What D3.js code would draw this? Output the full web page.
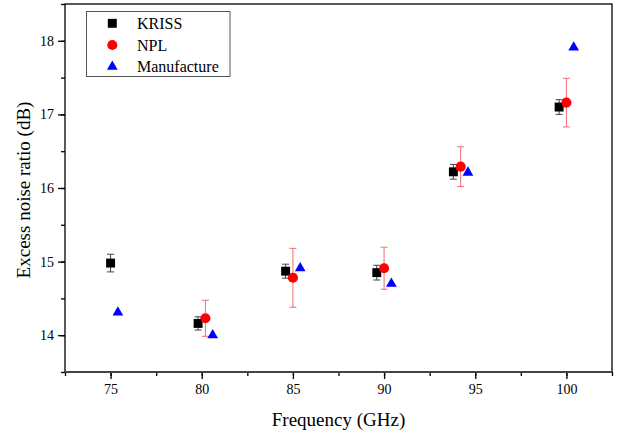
<!DOCTYPE html>
<html>
<head>
<meta charset="utf-8">
<script src="https://cdn.jsdelivr.net/npm/d3@7"></script>
<style>
  body { margin: 0; background: #fff; }
  text { font-family: "Liberation Serif", serif; }
</style>
</head>
<body>
<svg width="620" height="434"></svg>
<script>
// KRISS
const krissFreq = [75.0, 79.8, 84.6, 89.6, 93.8, 99.6]
const krissVal = [14.98, 14.16, 14.87, 14.85, 16.22, 17.1]
const krissErr = [0.12, 0.09, 0.095, 0.1, 0.1, 0.1]
// NPL
const nplFreq = [80.2, 85.0, 90.0, 94.2, 100.0]
const nplVal = [14.23, 14.78, 14.91, 16.29, 17.16]
const nplErr = [0.245, 0.4, 0.285, 0.27, 0.33]
// Manufacture
const manuFreq = [75.4, 80.6, 85.4, 90.4, 94.6, 100.4]
const manuVal = [14.31, 14.0, 14.91, 14.7, 16.21, 17.91]

const xTicks = [75, 80, 85, 90, 95, 100]
const yTicks = [14, 15, 16, 17, 18]
const seriesNames = ['KRISS', 'NPL', 'Manufacture']

const FONT = 'Liberation Serif'
const margin = { top: 4, right: 8, bottom: 62, left: 65 }
const width = 620 - margin.left - margin.right
const height = 434 - margin.top - margin.bottom

const svg = d3.select('svg').attr('font-family', FONT)
const chart = svg.append('g')
  .attr('transform', `translate(${margin.left}, ${margin.top})`)

const xScale = d3.scaleLinear().domain([72.5, 102.5]).range([0, width])
const yScale = d3.scaleLinear().domain([13.5, 18.5]).range([height, 0])

// frame
chart.append('rect')
  .attr('width', width).attr('height', height)
  .attr('fill', 'none').attr('stroke', '#000').attr('stroke-width', 1.3)

// minor ticks
const xMinor = chart.append('g')
  .attr('transform', `translate(0, ${height})`)
  .call(d3.axisBottom(xScale).tickValues(d3.range(72.5, 102.6, 2.5)).tickSize(4).tickFormat(''))
const xAxis = chart.append('g')
  .attr('transform', `translate(0, ${height})`)
  .call(d3.axisBottom(xScale).tickValues(xTicks).tickSize(7).tickPadding(5).tickFormat(d3.format('d')))
const yMinor = chart.append('g')
  .call(d3.axisLeft(yScale).tickValues(d3.range(13.5, 18.6, 0.5)).tickSize(4).tickFormat(''))
const yAxis = chart.append('g')
  .call(d3.axisLeft(yScale).tickValues(yTicks).tickSize(7).tickPadding(4).tickFormat(d3.format('d')))

for (const ax of [xMinor, xAxis, yMinor, yAxis]) {
  ax.attr('font-family', FONT)
  ax.selectAll('.domain').remove()
  ax.selectAll('line').attr('stroke', '#000').attr('stroke-width', 1.3)
  ax.selectAll('text').attr('font-size', 14).attr('font-family', FONT).attr('fill', '#000')
}
chart.append('line')
  .attr('x1', 0).attr('x2', width).attr('y1', height).attr('y2', height)
  .attr('stroke', '#444').attr('stroke-width', 2)

// axis titles
svg.append('text')
  .attr('x', margin.left + width / 2)
  .attr('y', 426)
  .attr('text-anchor', 'middle')
  .attr('font-family', FONT)
  .attr('font-size', 19)
  .text('Frequency (GHz)')

svg.append('text')
  .attr('transform', 'translate(30, 190) rotate(-90)')
  .attr('text-anchor', 'middle')
  .attr('font-family', FONT)
  .attr('font-size', 19)
  .text('Excess noise ratio (dB)')

function errorBars(freq, val, err, color) {
  const g = chart.append('g').attr('stroke', color).attr('stroke-width', 1)
  freq.forEach((f, i) => {
    const x = xScale(f)
    const y1 = yScale(val[i] - err[i])
    const y2 = yScale(val[i] + err[i])
    g.append('line').attr('x1', x).attr('x2', x).attr('y1', y1).attr('y2', y2)
    g.append('line').attr('x1', x - 3.5).attr('x2', x + 3.5).attr('y1', y1).attr('y2', y1)
    g.append('line').attr('x1', x - 3.5).attr('x2', x + 3.5).attr('y1', y2).attr('y2', y2)
  })
}

errorBars(krissFreq, krissVal, krissErr, '#444')
errorBars(nplFreq, nplVal, nplErr, '#f26d6d')

const square = d3.symbol().type(d3.symbolSquare).size(80)
const circle = d3.symbol().type(d3.symbolCircle).size(80)
const triangle = d3.symbol().type(d3.symbolTriangle).size(50)

chart.selectAll()
  .data(krissFreq)
  .enter()
  .append('path')
  .attr('d', square)
  .attr('transform', (d, i) => `translate(${xScale(d)}, ${yScale(krissVal[i])})`)
  .attr('fill', '#000')

chart.selectAll()
  .data(nplFreq)
  .enter()
  .append('path')
  .attr('d', circle)
  .attr('transform', (d, i) => `translate(${xScale(d)}, ${yScale(nplVal[i])})`)
  .attr('fill', '#ff0000')

chart.selectAll()
  .data(manuFreq)
  .enter()
  .append('path')
  .attr('d', triangle)
  .attr('transform', (d, i) => `translate(${xScale(d)}, ${yScale(manuVal[i])})`)
  .attr('fill', '#0000ff')

// legend
const legend = svg.append('g')
legend.append('rect')
  .attr('x', 86.5).attr('y', 11.5).attr('width', 143.5).attr('height', 65)
  .attr('fill', '#fff').attr('stroke', '#555').attr('stroke-width', 1)
const legendSymbols = [square, circle, triangle]
const legendColors = ['#000', '#ff0000', '#0000ff']
seriesNames.forEach((name, i) => {
  const y = 23.3 + i * 21.7
  legend.append('path')
    .attr('d', legendSymbols[i])
    .attr('transform', `translate(112.3, ${y})`)
    .attr('fill', legendColors[i])
  legend.append('text')
    .attr('x', 137)
    .attr('y', y + 5.5)
    .attr('font-family', FONT)
    .attr('font-size', 16)
    .text(name)
})
</script>
</body>
</html>
